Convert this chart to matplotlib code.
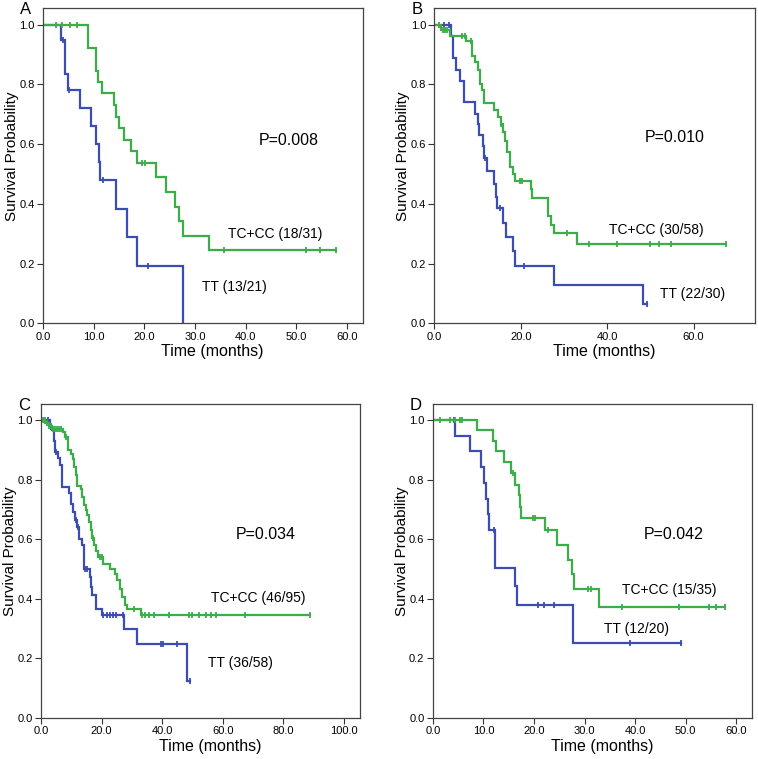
import numpy as np
import matplotlib
matplotlib.use("Agg")
import matplotlib.pyplot as plt

plt.rcParams['font.family'] = ['Liberation Sans', 'DejaVu Sans']

# colours of the two genotype groups
BLUE = "#3b4cb2"
GREEN = "#3cad48"

# ---- Panel A ----
a_tt_times = [3.5, 4.3, 4.8, 7.2, 9.4, 10.4, 11.1, 11.3, 14.4, 16.5, 18.5, 27.6]
a_tt_surv = [0.95, 0.836, 0.782, 0.721, 0.66, 0.599, 0.539, 0.48, 0.384, 0.288, 0.192, 0.0]
a_tt_cens = [3.95, 5.1, 11.9, 20.8]
a_tt_end = 27.6
a_tc_times = [8.8, 10.5, 10.8, 11.7, 14.0, 14.3, 15.0, 16.0, 17.3, 18.5, 22.3, 24.2, 26.0, 26.9, 27.6, 32.8]
a_tc_surv = [0.922, 0.846, 0.808, 0.771, 0.732, 0.692, 0.654, 0.615, 0.577, 0.538, 0.489, 0.44, 0.391, 0.342, 0.293, 0.245]
a_tc_cens = [2.5, 3.7, 5.3, 6.6, 19.6, 20.1, 35.7, 51.9, 54.6, 57.8]
a_tc_end = 57.8

# ---- Panel B ----
b_tt_times = [3.9, 4.3, 4.9, 5.9, 6.8, 9.5, 10.0, 10.4, 11.2, 11.5, 12.1, 13.9, 14.3, 14.5,
              15.8, 16.6, 18.3, 18.6, 27.6, 48.4]
b_tt_surv = [0.963, 0.889, 0.85, 0.813, 0.741, 0.702, 0.666, 0.63, 0.593, 0.554, 0.511, 0.467, 0.422, 0.387,
             0.335, 0.288, 0.241, 0.191, 0.128, 0.064]
b_tt_cens = [2.2, 3.3, 11.8, 15.2, 20.8, 49.2]
b_tt_end = 49.2
b_tc_times = [1.5, 3.7, 7.4, 8.7, 9.3, 10.0, 10.6, 11.0, 11.6, 13.9, 14.7, 15.5, 16.0, 16.4, 16.8, 17.4,
              18.2, 18.6, 22.3, 22.6, 26.3, 27.0, 27.7, 33.0]
b_tc_surv = [0.983, 0.964, 0.946, 0.897, 0.875, 0.849, 0.802, 0.782, 0.737, 0.713, 0.69, 0.666, 0.64, 0.612,
             0.573, 0.525, 0.5, 0.476, 0.45, 0.42, 0.36, 0.331, 0.302, 0.266]
b_tc_cens = [1.0, 2.0, 2.5, 3.0, 6.4, 7.0, 8.5, 15.5, 19.9, 20.2, 30.6, 35.9, 42.3, 50.0, 52.1, 54.8, 67.5]
b_tc_end = 67.5

# ---- Panel C ----
c_tt_times = [2.9, 3.4, 3.7, 4.3, 4.8, 5.6, 6.4, 6.9, 9.3, 9.8, 10.6, 11.1, 12.0, 12.6, 13.7, 14.2,
              16.1, 16.6, 17.0, 18.3, 20.3, 27.4, 31.8, 48.2]
c_tt_surv = [0.985, 0.972, 0.966, 0.93, 0.894, 0.873, 0.851, 0.776, 0.754, 0.72, 0.692, 0.664, 0.642, 0.602,
             0.58, 0.50, 0.474, 0.44, 0.412, 0.367, 0.347, 0.298, 0.247, 0.123]
c_tt_cens = [2.3, 5.0, 11.6, 12.2, 14.6, 15.2, 20.6, 21.7, 22.8, 23.9, 24.8, 27.1, 39.5, 40.3, 45.0, 49.1]
c_tt_end = 49.1
c_tc_times = [1.5, 2.5, 3.5, 7.3, 8.0, 8.9, 9.8, 10.6, 10.9, 11.5, 12.0, 13.3, 13.6, 14.1, 14.8, 15.3,
              15.9, 16.4, 17.0, 17.5, 18.3, 18.8, 20.5, 22.7, 24.3, 25.1, 26.0, 26.9, 27.8, 28.4, 33.1]
c_tc_surv = [0.99, 0.98, 0.97, 0.96, 0.944, 0.90, 0.888, 0.87, 0.843, 0.815, 0.78, 0.77, 0.742, 0.714,
             0.698, 0.68, 0.658, 0.63, 0.605, 0.58, 0.56, 0.54, 0.518, 0.50, 0.485, 0.462, 0.434, 0.407,
             0.378, 0.367, 0.347]
c_tc_cens = [0.8, 1.2, 2.0, 2.8, 3.2, 4.0, 4.6, 5.2, 5.8, 6.5, 8.4, 17.3, 19.4, 20.0, 30.7, 33.4, 34.3,
             35.8, 37.3, 42.3, 48.9, 49.7, 52.0, 54.6, 56.2, 57.7, 67.3, 88.8]
c_tc_end = 88.8

# ---- Panel D ----
d_tt_times = [4.3, 7.3, 9.6, 10.1, 10.5, 10.9, 11.1, 12.2, 16.3, 16.6, 27.7]
d_tt_surv = [0.946, 0.896, 0.843, 0.79, 0.737, 0.686, 0.632, 0.505, 0.443, 0.379, 0.253]
d_tt_cens = [4.2, 12.1, 20.8, 21.9, 23.9, 39.0, 49.0]
d_tt_end = 49.0
d_tc_times = [8.8, 11.9, 12.4, 14.0, 15.5, 16.2, 17.0, 17.3, 17.5, 22.2, 24.5, 26.8, 27.6, 27.9, 32.8]
d_tc_surv = [0.966, 0.93, 0.896, 0.86, 0.823, 0.784, 0.748, 0.709, 0.672, 0.63, 0.58, 0.53, 0.485, 0.434, 0.372]
d_tc_cens = [1.5, 3.3, 4.3, 5.3, 5.7, 15.8, 19.9, 20.2, 22.7, 30.6, 31.3, 37.4, 48.6, 54.6, 56.0, 57.7]
d_tc_end = 57.7

panels = [
    ("A", (a_tt_times, a_tt_surv, a_tt_cens, a_tt_end), (a_tc_times, a_tc_surv, a_tc_cens, a_tc_end),
     "P=0.008", "TC+CC (18/31)", "TT (13/21)"),
    ("B", (b_tt_times, b_tt_surv, b_tt_cens, b_tt_end), (b_tc_times, b_tc_surv, b_tc_cens, b_tc_end),
     "P=0.010", "TC+CC (30/58)", "TT (22/30)"),
    ("C", (c_tt_times, c_tt_surv, c_tt_cens, c_tt_end), (c_tc_times, c_tc_surv, c_tc_cens, c_tc_end),
     "P=0.034", "TC+CC (46/95)", "TT (36/58)"),
    ("D", (d_tt_times, d_tt_surv, d_tt_cens, d_tt_end), (d_tc_times, d_tc_surv, d_tc_cens, d_tc_end),
     "P=0.042", "TC+CC (15/35)", "TT (12/20)"),
]

# axes boxes in figure fractions (left, bottom, width, height)
boxes = {
    "A": [0.057, 0.574, 0.422, 0.415],
    "B": [0.573, 0.574, 0.423, 0.415],
    "C": [0.054, 0.054, 0.421, 0.414],
    "D": [0.571, 0.054, 0.421, 0.414],
}
xlims = {"A": 63.2, "B": 74.2, "C": 105.3, "D": 63.1}
xsteps = {"A": 10, "B": 20, "C": 20, "D": 10}
xmaxtick = {"A": 60, "B": 60, "C": 100, "D": 60}
# text positions in data coords: P value, TC+CC label, TT label
text_pos = {
    "A": [(42.5, 0.612), (36.5, 0.30), (31.3, 0.123)],
    "B": [(48.6, 0.623), (40.5, 0.313), (52.2, 0.098)],
    "C": [(64.3, 0.617), (56.1, 0.403), (55.2, 0.186)],
    "D": [(41.7, 0.617), (37.4, 0.431), (33.8, 0.30)],
}


def draw_curve(ax, times, surv, cens, end, color):
    times = np.array(times)
    surv = np.array(surv)
    xs = np.concatenate([[0], times, [end]])
    ys = np.concatenate([[1.0], surv, [surv[-1]]])
    ax.plot(xs, ys, drawstyle="steps-post", color=color, lw=1.6, solid_joinstyle="miter")
    # censored marks sit on the curve
    idx = np.searchsorted(times, cens, side="right")
    cy = np.concatenate([[1.0], surv])[idx]
    ax.plot(cens, cy, linestyle="none", marker="|", color=color, markersize=5, mew=1.3)


fig = plt.figure(figsize=(7.58, 7.59), dpi=100)

for letter, tt, tc, ptxt, tclab, ttlab in panels:
    ax = fig.add_axes(boxes[letter])
    draw_curve(ax, *tt, BLUE)
    draw_curve(ax, *tc, GREEN)

    ax.set_xlim(0, xlims[letter])
    ax.set_ylim(0, 1.055)
    ax.set_xticks(np.arange(0, xmaxtick[letter] + 1, xsteps[letter]))
    ax.set_yticks(np.arange(0, 1.01, 0.2))
    ax.xaxis.set_major_formatter(matplotlib.ticker.FormatStrFormatter("%.1f"))
    ax.yaxis.set_major_formatter(matplotlib.ticker.FormatStrFormatter("%.1f"))
    ax.tick_params(labelsize=8, length=4, width=0.8, color="#333333", pad=2)
    for s in ax.spines.values():
        s.set_color("#444444")
        s.set_linewidth(0.9)

    ax.set_xlabel("Time (months)", fontsize=11.5, va="top")
    ax.xaxis.set_label_coords(0.53, -0.066)
    ax.set_ylabel("Survival Probability", fontsize=11, va="center")
    ax.yaxis.set_label_coords(-0.097, 0.53)

    (px, py), (gx, gy), (bx, by) = text_pos[letter]
    ax.text(px, py, ptxt, fontsize=11.5, va="center", ha="left")
    ax.text(gx, gy, tclab, fontsize=10, va="center", ha="left")
    ax.text(bx, by, ttlab, fontsize=10, va="center", ha="left")

    l, b, w, h = boxes[letter]
    fig.text(l - 0.03, b + h - 0.002, letter, fontsize=12, va="center", ha="left")

fig.savefig("out.png", dpi=100)
